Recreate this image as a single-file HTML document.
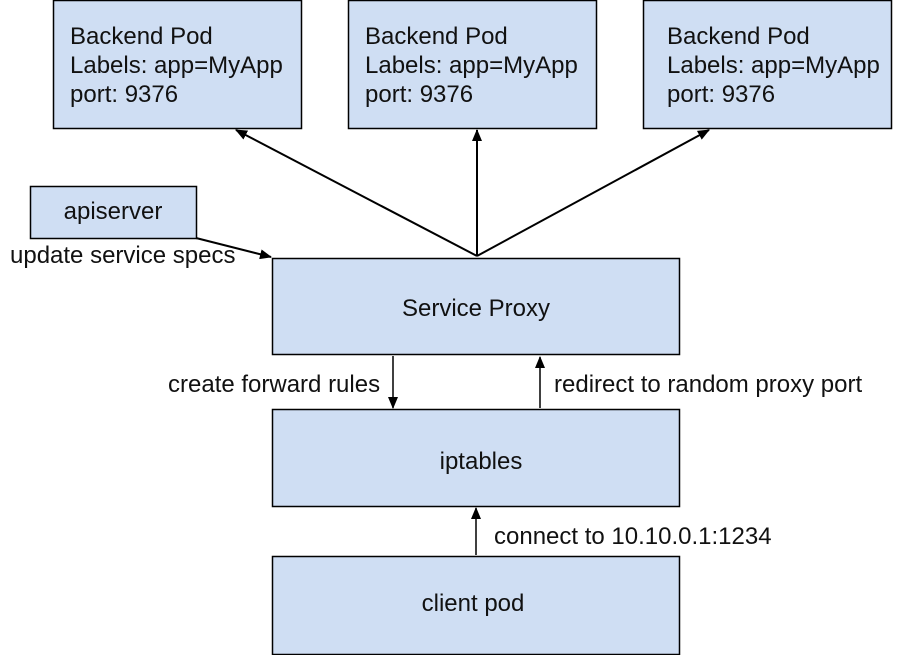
<!DOCTYPE html>
<html><head><meta charset="utf-8"><style>
html,body{margin:0;padding:0;background:#fff;}
svg{display:block;}
text{font-family:"Liberation Sans",sans-serif;font-size:24px;fill:#111;}
</style></head><body>
<svg width="914" height="655" viewBox="0 0 914 655" xmlns="http://www.w3.org/2000/svg">
<defs>
<marker id="a" markerWidth="12" markerHeight="10" refX="11" refY="5" orient="auto" markerUnits="userSpaceOnUse">
<path d="M0,0 L12,5 L0,10 z" fill="#000"/></marker>
</defs>
<g fill="#cfdef3" stroke="#000" stroke-width="1.5">
<rect x="53.5" y="0.5" width="248" height="128"/>
<rect x="348.5" y="0.5" width="248" height="128"/>
<rect x="643.5" y="0.5" width="248" height="128"/>
<rect x="30.5" y="186.5" width="166" height="52"/>
<rect x="272.5" y="258.5" width="407" height="96"/>
<rect x="272.5" y="409.5" width="407" height="97"/>
<rect x="272.5" y="556.5" width="407" height="98"/>
</g>
<g>
<text x="70" y="44">Backend Pod</text><text x="70" y="73">Labels: app=MyApp</text><text x="70" y="102">port: 9376</text>
<text x="365" y="44">Backend Pod</text><text x="365" y="73">Labels: app=MyApp</text><text x="365" y="102">port: 9376</text>
<text x="667" y="44">Backend Pod</text><text x="667" y="73">Labels: app=MyApp</text><text x="667" y="102">port: 9376</text>
<text x="113" y="219" text-anchor="middle">apiserver</text>
<text x="10" y="263">update service specs</text>
<text x="476" y="316" text-anchor="middle">Service Proxy</text>
<text x="168" y="392">create forward rules</text>
<text x="554" y="392">redirect to random proxy port</text>
<text x="481" y="469" text-anchor="middle">iptables</text>
<text x="494" y="544">connect to 10.10.0.1:1234</text>
<text x="473" y="611" text-anchor="middle">client pod</text>
</g>
<g stroke="#000" stroke-width="2" fill="none" marker-end="url(#a)">
<line x1="477" y1="256" x2="236" y2="130"/>
<line x1="477" y1="256" x2="477" y2="130"/>
<line x1="477" y1="256" x2="709" y2="130"/>
<line x1="196" y1="238" x2="271" y2="257"/>
</g>
<g stroke="#000" stroke-width="1.5" fill="none" marker-end="url(#a)">
<line x1="393" y1="356" x2="393" y2="408"/>
<line x1="540" y1="408" x2="540" y2="357"/>
<line x1="476" y1="555" x2="476" y2="508"/>
</g>
</svg>
</body></html>
